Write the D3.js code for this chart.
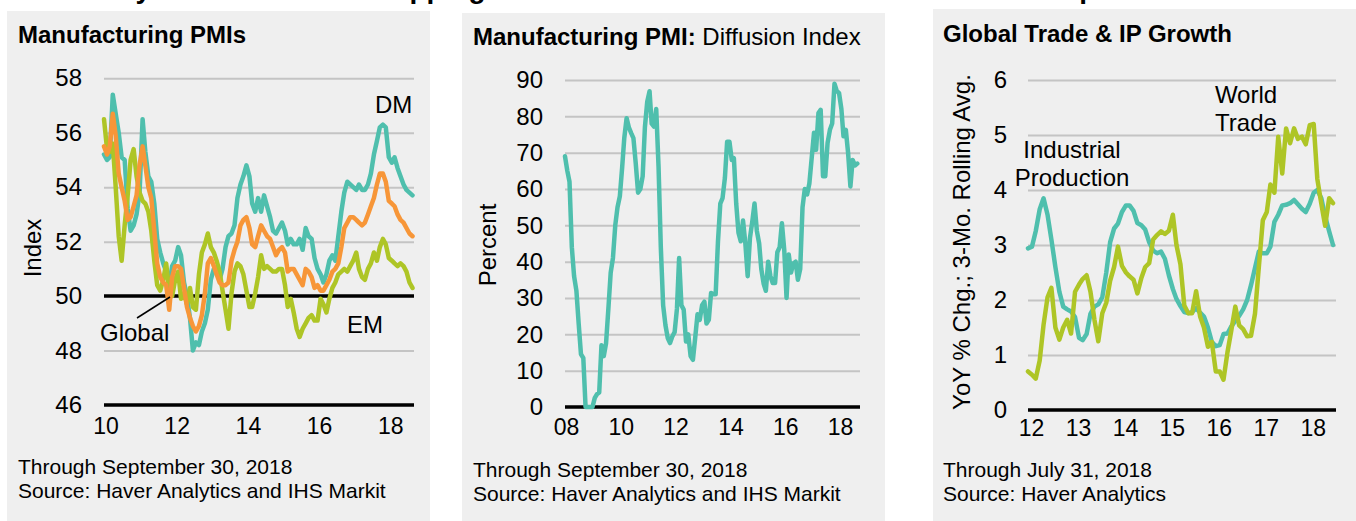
<!DOCTYPE html>
<html><head><meta charset="utf-8">
<script src="https://cdn.jsdelivr.net/npm/d3@7"></script>
<style>
body{margin:0;background:#fff}
svg{display:block}
text{font-family:"Liberation Sans",Arial,sans-serif;fill:#000}
</style>
</head><body><svg id="c" width="1356" height="521"></svg>
<script>
// ---------- DATA ----------
const pageTitle = "Factory Momentum Still Slipping While World Trade and Global Industrial Output Remains Firm";

// Panel 1: Manufacturing PMIs, monthly Jan 2010 - Sep 2018
const pmiStart = new Date(2010, 0, 1);
const dmPMI = [55.2,55.0,55.1,57.4,56.7,56.0,55.1,55.0,53.2,52.4,
52.6,53.0,53.8,56.5,55.3,54.4,54.2,53.4,52.1,51.6,
51.2,50.9,50.4,51.1,51.3,51.8,51.5,50.5,50.0,49.2,
48.0,48.3,48.2,48.7,49.0,49.5,50.6,51.0,51.0,50.6,
51.0,51.8,52.2,52.3,52.6,53.6,54.1,54.4,54.8,54.4,
53.4,53.1,53.6,53.1,53.7,53.3,52.9,52.4,52.3,52.5,
52.7,52.4,51.9,52.1,51.9,51.9,52.1,51.7,52.5,52.2,
52.1,51.4,51.0,50.8,50.5,50.8,51.3,51.5,51.3,52.2,
53.1,53.8,54.2,54.1,54.0,53.9,54.1,53.9,53.9,54.1,
54.5,55.2,55.7,56.2,56.3,56.2,55.1,54.9,55.1,54.7,
54.4,54.1,53.9,53.8,53.7];
const emPMI = [56.5,55.4,55.3,55.6,54.0,52.2,51.3,52.6,53.7,55.0,
55.4,54.4,53.8,53.5,53.4,53.1,52.4,51.3,50.4,50.2,
50.6,51.2,50.2,50.0,50.6,50.9,49.9,50.1,49.7,50.3,
49.6,49.5,50.8,51.6,51.9,52.3,51.8,51.6,51.3,50.9,
50.2,49.5,48.8,50.1,50.9,51.2,51.1,50.8,50.2,49.6,
49.6,50.1,50.7,51.5,51.0,51.1,51.0,50.9,50.9,51.0,
51.0,50.4,49.6,49.9,49.4,48.8,48.5,48.8,49.0,49.2,
49.3,49.1,49.1,49.9,49.7,49.4,49.9,50.3,50.5,50.8,
50.9,51.0,50.9,51.1,51.3,51.6,51.0,50.7,50.6,51.0,
51.2,51.6,51.3,51.8,52.1,51.9,51.4,51.3,51.2,51.1,
51.2,51.1,50.9,50.5,50.3];
const globalPMI = [55.5,55.2,55.5,56.7,55.9,54.5,54.0,53.5,52.8,52.9,
53.3,53.7,54.8,55.5,54.8,54.0,53.6,52.4,51.2,50.7,
50.5,50.4,49.5,50.7,51.1,51.1,51.0,50.3,49.6,49.2,
48.9,48.7,48.9,49.3,50.1,51.2,51.4,51.1,50.8,50.5,
50.4,50.4,50.5,51.3,51.7,52.0,52.6,52.8,52.9,52.5,
51.9,51.8,52.2,52.6,52.4,52.2,52.1,51.8,51.5,51.7,
51.8,51.6,50.9,51.0,51.0,50.8,50.6,50.4,51.0,50.9,
50.7,50.3,50.4,50.2,50.2,50.4,50.6,50.9,51.0,51.2,
51.8,52.5,52.7,52.9,52.9,52.8,52.7,52.6,52.7,53.0,
53.3,53.6,54.1,54.5,54.5,54.2,53.5,53.4,53.3,53.0,
52.8,52.7,52.5,52.3,52.2];
const pmiYTicks = [46,48,50,52,54,56,58];
const pmiXTicks = [2010,2012,2014,2016,2018];

// Panel 2: Diffusion index, monthly Jan 2008 - Sep 2018
const diffStart = new Date(2008, 0, 1);
const diffusion = [69,65,62,44,36,32,23,14.5,13.5,0,
0,0,0,2.5,3.5,4,17,14,17.5,27,
37,41,50,55,58,66,74,79.5,77,75.4,
74,67,59,60,63.5,77,84,86.9,78,77.2,
82,66,44,28,22.5,19,17.6,19.4,20.6,27,
41,28,26.8,18,20,14,13,19,25.5,24,
28,29,23,24,31.4,31,31,45.6,56,57.5,
63,73,73,68,68.5,56,48,45.6,51.3,45,
36,46.5,51,56,48.5,45,38,34,32,40,
36,34.1,34.1,42.6,44,50.6,43.3,30,42,37,
39.5,40,35,38,55,60,58.5,61.5,68.5,75.5,
70.8,80.9,81.8,63.5,63.5,72.7,76.3,78,89,87,
86.4,82,74.5,76.3,70,60.7,68,66.5,67];
const diffYTicks = [0,10,20,30,40,50,60,70,80,90];
const diffXTicks = [2008,2010,2012,2014,2016,2018];

// Panel 3: Global trade & IP growth, monthly Jan 2012 - Jul 2018
const tradeStart = new Date(2012, 0, 1);
const ipGrowth = [2.94,2.97,3.25,3.65,3.85,3.55,3.1,2.6,2.15,1.88,
1.83,1.79,1.69,1.31,1.27,1.38,1.75,1.88,1.92,2.05,
2.5,3.05,3.3,3.39,3.6,3.72,3.72,3.62,3.4,3.36,
3.28,3.05,2.9,2.85,2.88,2.75,2.45,2.2,2.02,1.89,
1.78,1.76,1.78,1.85,1.77,1.7,1.5,1.24,1.16,1.18,
1.38,1.39,1.52,1.62,1.71,1.83,2.0,2.27,2.58,2.88,
2.85,2.85,2.97,3.42,3.55,3.72,3.73,3.76,3.82,3.74,
3.66,3.6,3.75,3.95,4.0,3.85,3.52,3.25,3.0];
const tradeGrowth = [0.7,0.64,0.57,0.9,1.55,2.05,2.22,1.5,1.28,1.5,
1.64,1.39,2.15,2.28,2.38,2.45,2.15,1.64,1.25,1.76,
1.95,2.35,2.6,2.97,2.62,2.5,2.43,2.37,2.12,2.4,
2.6,2.67,3.1,3.18,3.25,3.2,3.26,3.55,3.0,2.65,
1.9,1.76,1.76,2.16,1.7,1.5,1.15,1.24,0.7,0.7,
0.55,1.05,1.45,1.88,1.54,1.47,1.34,1.35,1.75,2.6,
3.45,3.6,4.1,3.95,4.97,4.3,5.12,4.85,5.12,4.93,
4.97,4.83,5.18,5.2,4.2,3.75,3.35,3.85,3.76];
const tradeYTicks = [0,1,2,3,4,5,6];
const tradeXTicks = [2012,2013,2014,2015,2016,2017,2018];

const C = {teal:"#4FBFAD", green:"#AEC526", orange:"#F79638", bg:"#EFEFEF", grid:"#C4C4C4"};

// ---------- DRAW ----------
const svg = d3.select("#c");
svg.append("text").attr("x", 50).attr("y", -2.5)
  .style("font-size","28px").style("font-weight","bold").text(pageTitle);

function toSeries(start, vals){ return vals.map((v,i)=>({d:d3.timeMonth.offset(start,i), v})); }

function panel(o){
  const g = svg.append("g");
  g.append("rect").attr("x",o.box[0]).attr("y",o.box[1]).attr("width",o.box[2]-o.box[0]).attr("height",521-o.box[1]).attr("fill",C.bg);
  // title
  const t = g.append("text").attr("x",o.titleX).attr("y",o.titleY).style("font-size","24px");
  o.title.forEach(p=>t.append("tspan").style("font-weight",p.b?"bold":"normal").text(p.t));
  const x = d3.scaleTime().domain(o.xDomain).range(o.xRange);
  const y = d3.scaleLinear().domain(o.yDomain).range(o.yRange);
  const w = o.gridR - o.xRange[0];
  // grid
  const grid = g.append("g").attr("transform",`translate(${o.xRange[0]},0)`)
    .call(d3.axisLeft(y).tickValues(o.yTicks.filter(v=>!o.black.includes(v))).tickSize(-w).tickFormat(""));
  grid.select(".domain").remove();
  grid.selectAll("line").attr("stroke",C.grid).attr("stroke-width",2);
  // black lines
  o.black.forEach(v=>{
    g.append("line").attr("x1",o.xRange[0]).attr("x2",o.gridR).attr("y1",y(v)).attr("y2",y(v))
     .attr("stroke","#000").attr("stroke-width",3.5);
  });
  // y axis labels
  const ya = g.append("g").attr("transform",`translate(${o.xRange[0]},0)`)
    .call(d3.axisLeft(y).tickValues(o.yTicks).tickSize(0).tickPadding(o.xRange[0]-o.yLabR).tickFormat(d3.format("d")));
  ya.select(".domain").remove();
  ya.selectAll("text").style("font-size","24px").attr("fill","#000").attr("font-family",null);
  // x axis labels
  const xa = g.append("g").attr("transform",`translate(${o.xLabShift},${y(o.yDomain[0])})`)
    .call(d3.axisBottom(x).tickValues(o.xTicks.map(yr=>new Date(yr,0,1))).tickSize(0).tickPadding(o.xPad).tickFormat(d3.timeFormat("%y")));
  xa.select(".domain").remove();
  xa.selectAll("text").style("font-size","23px").attr("fill","#000").attr("font-family",null);
  // y title
  g.append("text").attr("transform",`translate(${o.yTitle[0]},${o.yTitle[1]}) rotate(-90)`)
    .attr("text-anchor","middle").attr("dy","0.35em").style("font-size","24px").text(o.yTitle[2]);
  // series
  const line = d3.line().x(d=>x(d.d)).y(d=>y(d.v)).curve(d3.curveLinear);
  o.series.forEach(s=>{
    g.append("path").datum(toSeries(o.start,s.vals)).attr("d",line)
      .attr("fill","none").attr("stroke",s.color).attr("stroke-width",4.5)
      .attr("stroke-linejoin","round").attr("stroke-linecap","round");
  });
  // annotations
  (o.notes||[]).forEach(n=>{
    const tx = g.append("text").attr("x",n[0]).attr("y",n[1]).attr("text-anchor",n[3]||"start").style("font-size","24px");
    n[2].split("\n").forEach((s,i)=>tx.append("tspan").attr("x",n[0]).attr("dy",i?28:0).text(s));
  });
  // footnotes
  o.foot.forEach((s,i)=>g.append("text").attr("x",o.footX).attr("y",o.footY+i*24).style("font-size","21px").text(s));
  return {g,x,y};
}

const p1 = panel({
  box:[7,11,430], title:[{t:"Manufacturing PMIs",b:true}], titleX:18, titleY:43,
  start:pmiStart, xDomain:[pmiStart,new Date(2018,8,1)], xRange:[104,412.5], gridR:414,
  yDomain:[46,58], yRange:[405,78.3], yTicks:pmiYTicks, black:[46,50], yLabR:82,
  xTicks:pmiXTicks, xPad:13, xLabShift:1.5, yTitle:[33,248,"Index"],
  series:[{vals:dmPMI,color:C.teal},{vals:emPMI,color:C.green},{vals:globalPMI,color:C.orange}],
  notes:[[375,113,"DM"],[347,333,"EM"],[100,341,"Global"]],
  foot:["Through September 30, 2018","Source: Haver Analytics and IHS Markit"], footX:18, footY:474
});
p1.g.append("line").attr("x1",137).attr("y1",318).attr("x2",170).attr("y2",297).attr("stroke","#000").attr("stroke-width",1.5);

panel({
  box:[462,13,885], title:[{t:"Manufacturing PMI:",b:true},{t:" Diffusion Index",b:false}], titleX:473, titleY:45,
  start:diffStart, xDomain:[diffStart,new Date(2018,8,1)], xRange:[565,857.3], gridR:860,
  yDomain:[0,90], yRange:[407,80], yTicks:diffYTicks, black:[0], yLabR:543,
  xTicks:diffXTicks, xPad:12, xLabShift:1, yTitle:[488,245,"Percent"],
  series:[{vals:diffusion,color:C.teal}],
  foot:["Through September 30, 2018","Source: Haver Analytics and IHS Markit"], footX:473, footY:477
});

panel({
  box:[933,9,1356], title:[{t:"Global Trade & IP Growth",b:true}], titleX:943, titleY:42,
  start:tradeStart, xDomain:[tradeStart,new Date(2018,6,1)], xRange:[1028,1333], gridR:1336,
  yDomain:[0,6], yRange:[410,80], yTicks:tradeYTicks, black:[0], yLabR:1007,
  xTicks:tradeXTicks, xPad:10, xLabShift:3, yTitle:[962,242,"YoY % Chg.; 3-Mo. Rolling Avg."],
  series:[{vals:ipGrowth,color:C.teal},{vals:tradeGrowth,color:C.green}],
  notes:[[1072,158,"Industrial\nProduction","middle"],[1246,103,"World\nTrade","middle"]],
  foot:["Through July 31, 2018","Source: Haver Analytics"], footX:943, footY:477
});
</script></body></html>
